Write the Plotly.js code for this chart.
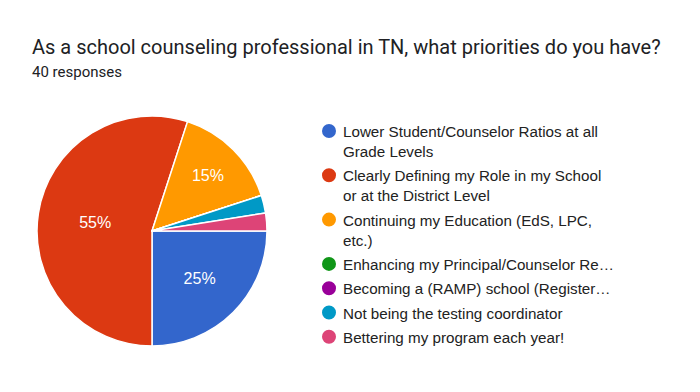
<!DOCTYPE html>
<html>
<head>
<meta charset="utf-8">
<script src="https://cdn.plot.ly/plotly-3.0.1.min.js"></script>
<style>html,body{margin:0;padding:0;background:#fff;}#chart{width:700px;height:392px;}</style>
</head>
<body>
<div id="chart"></div>
<script>
// Data
var categories = [
  "Lower Student/Counselor Ratios at all Grade Levels",
  "Clearly Defining my Role in my School or at the District Level",
  "Continuing my Education (EdS, LPC, etc.)",
  "Enhancing my Principal/Counselor Relationship",
  "Becoming a (RAMP) school (Recognized ASCA Model Program)",
  "Not being the testing coordinator",
  "Bettering my program each year!"
];
var legendLabels = [
  "Lower Student/Counselor Ratios at all<br>Grade Levels",
  "Clearly Defining my Role in my School<br>or at the District Level",
  "Continuing my Education (EdS, LPC,<br>etc.)",
  "Enhancing my Principal/Counselor Re…",
  "Becoming a (RAMP) school (Register…",
  "Not being the testing coordinator",
  "Bettering my program each year!"
];
var counts = [10, 22, 6, 0, 0, 1, 1];
var colors = ["#3366cc", "#dc3912", "#ff9900", "#109618", "#990099", "#0099c6", "#dd4477"];
var titleText = "As a school counseling professional in TN, what priorities do you have?";
var subtitleText = "40 responses";

var total = counts.reduce(function(a, b){ return a + b; }, 0);
var sliceText = counts.map(function(v){
  var p = v / total * 100;
  return p >= 5 ? (Math.round(p * 10) / 10) + "%" : "";
});

var W = 700, H = 392;
var cx = 152, cy = 231, R = 115;

var trace = {
  type: "pie",
  labels: categories,
  values: counts,
  text: sliceText,
  textinfo: "text",
  textposition: "inside",
  insidetextorientation: "horizontal",
  sort: false,
  direction: "clockwise",
  rotation: 90,
  marker: { colors: colors, line: { color: "#ffffff", width: 1.5 } },
  textfont: { family: "Arial, 'Liberation Sans', sans-serif", size: 16, color: "#ffffff" },
  showlegend: false,
  hoverinfo: "label+value+percent",
  domain: {
    x: [(cx - R) / W, (cx + R) / W],
    y: [(H - cy - R) / H, (H - cy + R) / H]
  }
};

// Custom legend (circle markers, wrapped text)
var annotations = [];
var shapes = [];
var legendX = 329, textX = 341, startY = 131, lineH = 20, gap = 24.3;
var y = startY;
legendLabels.forEach(function(lbl, i){
  var nLines = lbl.split("<br>").length;
  shapes.push({
    type: "circle", xref: "paper", yref: "paper",
    x0: (legendX - 7) / W, x1: (legendX + 7) / W,
    y0: 1 - (y + 7) / H, y1: 1 - (y - 7) / H,
    fillcolor: colors[i], line: { width: 0 }
  });
  annotations.push({
    text: lbl, xref: "paper", yref: "paper",
    x: textX / W, y: 1 - (y - 10) / H,
    xanchor: "left", yanchor: "top", align: "left",
    showarrow: false,
    font: { family: "Arial, 'Liberation Sans', sans-serif", size: 15.2, color: "#222222" }
  });
  y += (nLines - 1) * lineH + gap;
});

annotations.push({
  text: subtitleText, xref: "paper", yref: "paper",
  x: 30 / W, y: 1 - 72 / H, xanchor: "left", yanchor: "middle",
  showarrow: false,
  font: { family: "Roboto, sans-serif", size: 15, color: "#202124" }
});

var layout = {
  width: W, height: H,
  margin: { l: 0, r: 0, t: 0, b: 0 },
  paper_bgcolor: "#ffffff",
  title: {
    text: titleText,
    x: 32 / W, xref: "paper", xanchor: "left",
    y: 1 - 47 / H, yref: "paper", yanchor: "middle",
    font: { family: "Roboto, sans-serif", size: 20, color: "#202124" }
  },
  annotations: annotations,
  shapes: shapes
};

Plotly.newPlot("chart", [trace], layout, { displayModeBar: false, staticPlot: true });
</script>
</body>
</html>
